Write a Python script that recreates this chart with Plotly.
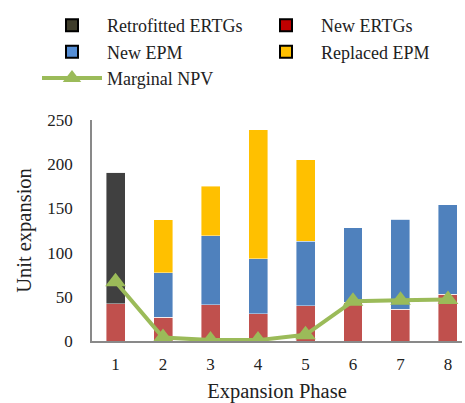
import plotly.graph_objects as go

phases = [1, 2, 3, 4, 5, 6, 7, 8]
new_ertgs = [42, 27, 41, 31, 40, 44, 36, 53]
retrofitted_ertgs = [149, 0, 0, 0, 0, 0, 0, 0]
new_epm = [0, 50, 78, 62, 73, 84, 102, 101]
replaced_epm = [0, 60, 56, 146, 92, 0, 0, 0]
marginal_npv = [67, 4, 1, 1, 7, 45, 46, 47]

FONT = "Liberation Serif"
bar_w = 0.4

fig = go.Figure()

bar_specs = [
    ("New ERTGs", new_ertgs, "#C0504D"),
    ("Retrofitted ERTGs", retrofitted_ertgs, "#404040"),
    ("New EPM", new_epm, "#4F81BD"),
    ("Replaced EPM", replaced_epm, "#FFC000"),
]
for name, vals, col in bar_specs:
    fig.add_trace(go.Bar(
        x=phases, y=vals, name=name, width=bar_w, showlegend=False,
        marker=dict(color=col, line=dict(color="rgba(255,255,255,0.6)", width=0.7)),
    ))

# legend entries (styled like the reference legend)
legend_specs = [
    ("Retrofitted ERTGs", "#3F3D2B"),
    ("New ERTGs", "#C00000"),
    ("New EPM", "#558ED5"),
    ("Replaced EPM", "#FFC000"),
]
for name, col in legend_specs:
    fig.add_trace(go.Bar(
        x=[None], y=[None], name=name,
        marker=dict(color=col, line=dict(color="#000000", width=2)),
    ))

fig.add_trace(go.Scatter(
    x=phases, y=marginal_npv, name="Marginal NPV", mode="lines+markers",
    line=dict(color="#9BBB59", width=4),
    marker=dict(symbol="triangle-up", size=18, color="#9BBB59"),
))

fig.update_layout(
    barmode="stack",
    width=465, height=403,
    margin=dict(l=92, r=3, t=120, b=62),
    paper_bgcolor="white", plot_bgcolor="white",
    font=dict(family=FONT, size=17, color="#000000"),
    showlegend=True,
    legend=dict(
        orientation="h", x=-0.1405, xanchor="left", y=1.511, yanchor="top",
        xref="paper", yref="paper",
        entrywidth=139, entrywidthmode="pixels",
        font=dict(family=FONT, size=18, color="#222222"),
        itemwidth=60, traceorder="normal",
    ),
    xaxis=dict(
        range=[0.505, 8.295], tickvals=phases, ticktext=[str(p) for p in phases],
        showgrid=False, zeroline=False, showline=True, linecolor="#898989", linewidth=1.5,
        ticks="", automargin=False, ticklabelstandoff=7,
        tickfont=dict(family=FONT, size=17, color="#222222"),
        title=dict(text="Expansion Phase", font=dict(family=FONT, size=20.5, color="#222222"), standoff=11),
    ),
    yaxis=dict(
        range=[0, 250], tickvals=[0, 50, 100, 150, 200, 250],
        showgrid=False, zeroline=False, showline=True, linecolor="#898989", linewidth=1.5,
        ticks="", automargin=False, ticklabelstandoff=14, tickfont=dict(family=FONT, size=17, color="#222222"),
        title=dict(text="Unit expansion", font=dict(family=FONT, size=20.5, color="#222222"), standoff=10),
    ),
)

fig.write_html("out.html", config={"displayModeBar": False},
               post_script="document.body.style.margin='0';document.body.style.overflow='hidden';")
